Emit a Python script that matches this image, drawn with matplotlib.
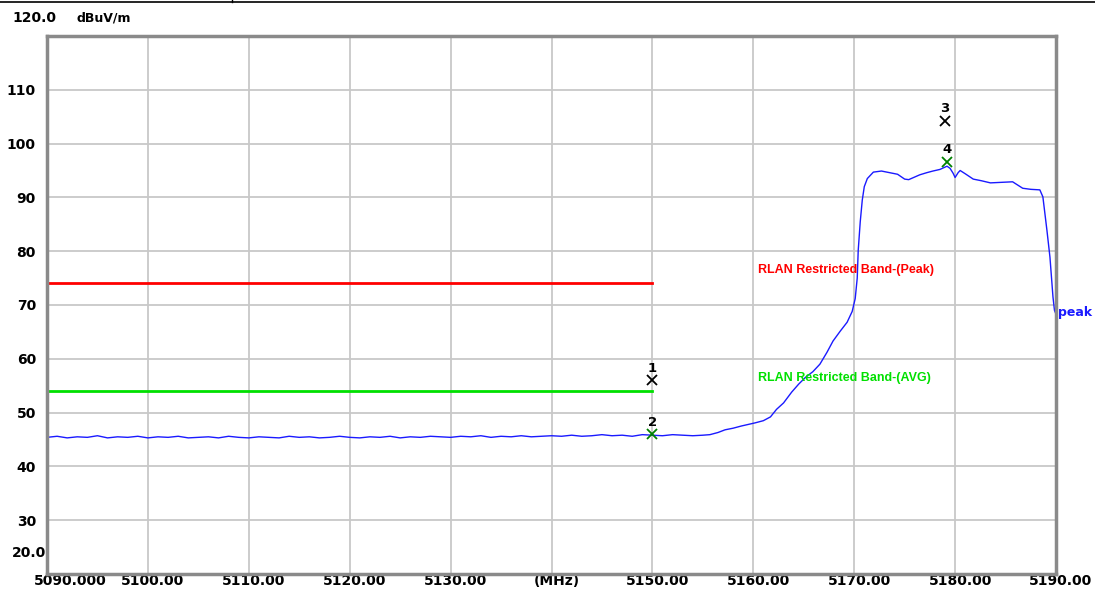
import numpy as np
import matplotlib.pyplot as plt
from matplotlib.lines import Line2D
from matplotlib.transforms import ScaledTranslation

# trace (MHz, dBuV/m)
flat_freq = list(range(5090, 5155))
flat_level = [45.4, 45.6, 45.3, 45.5, 45.4, 45.7, 45.3, 45.5, 45.4, 45.6,
              45.3, 45.5, 45.4, 45.6, 45.3, 45.4, 45.5, 45.3, 45.6, 45.4,
              45.3, 45.5, 45.4, 45.3, 45.6, 45.4, 45.5, 45.3, 45.4, 45.6,
              45.4, 45.3, 45.5, 45.4, 45.6, 45.3, 45.5, 45.4, 45.6, 45.5,
              45.4, 45.6, 45.5, 45.7, 45.4, 45.6, 45.5, 45.7, 45.5, 45.6,
              45.7, 45.6, 45.8, 45.6, 45.7, 45.9, 45.7, 45.8, 45.6, 45.9,
              45.8, 45.7, 45.9, 45.8, 45.7]
edge_freq = [5155.0, 5155.7, 5156.5, 5157.2, 5158.0, 5158.8, 5159.5, 5160.2,
             5161.0, 5161.7, 5162.3, 5163.0, 5163.8, 5164.5, 5165.2, 5165.9,
             5166.6, 5167.3, 5167.9, 5168.6, 5169.3, 5169.8, 5170.1, 5170.3,
             5170.4, 5170.6, 5170.8, 5171.0, 5171.3, 5171.9, 5172.7, 5173.5,
             5174.3, 5175.0, 5175.4, 5176.0, 5176.5, 5177.2, 5177.8, 5178.5,
             5179.2, 5179.5, 5179.8, 5180.0, 5180.3, 5180.5, 5181.0, 5181.8,
             5182.6, 5183.5, 5184.5, 5185.7, 5186.2, 5186.7, 5187.5, 5188.4,
             5188.7, 5188.9, 5189.1, 5189.4, 5189.7, 5189.85, 5190.0]
edge_level = [45.8, 45.9, 46.3, 46.8, 47.1, 47.5, 47.8, 48.1,
              48.5, 49.2, 50.6, 51.8, 53.8, 55.3, 56.6, 57.6,
              59.0, 61.2, 63.3, 65.1, 66.8, 68.8, 71.2, 75.0,
              80.2, 85.5, 89.5, 92.0, 93.5, 94.7, 94.9, 94.6,
              94.3, 93.4, 93.3, 93.8, 94.2, 94.6, 94.9, 95.2,
              95.8, 95.4, 94.5, 93.7, 94.6, 95.0, 94.4, 93.4,
              93.1, 92.7, 92.8, 92.9, 92.3, 91.7, 91.5, 91.4,
              90.1, 87.0, 83.9, 78.9, 71.5, 69.0, 68.3]

limit_freq = [5090, 5150]
peak_limit = 74
avg_limit = 54

marker_names = ['1', '2', '3', '4']
marker_freq = [5150.0, 5150.0, 5179.0, 5179.2]
marker_level = [56.0, 46.0, 104.2, 96.6]
marker_col = ['black', 'green', 'black', 'green']

x_ticks = [5090, 5100, 5110, 5120, 5130, 5140, 5150, 5160, 5170, 5180, 5190]
x_labels = ['5090.000', '5100.00', '5110.00', '5120.00', '5130.00', '(MHz)',
            '5150.00', '5160.00', '5170.00', '5180.00', '5190.00']
y_ticks = [30, 40, 50, 60, 70, 80, 90, 100, 110]

fig = plt.figure(figsize=(10.95, 5.91), dpi=100)
ax = fig.add_axes([47/1095, 1-574/591, (1056-47)/1095, (574-36)/591])

freq = flat_freq + edge_freq
level = flat_level + edge_level
ax.plot(freq, level, color='#1a1aff', lw=1)
ax.plot(limit_freq, [peak_limit]*2, color='#ff0000', lw=2)
ax.plot(limit_freq, [avg_limit]*2, color='#00e000', lw=2)

for n, f, l, c in zip(marker_names, marker_freq, marker_level, marker_col):
    ax.plot(f, l, marker='x', color=c, ms=7, mew=1.3)
    ax.annotate(n, (f, l), xytext=(0, 4), textcoords='offset points',
                ha='center', va='bottom', fontsize=9.5, fontweight='bold',
                color='black')

ax.set_xlim(5090, 5190)
ax.set_ylim(20, 120)
ax.set_xticks(x_ticks)
ax.set_xticklabels(x_labels)
ax.set_yticks(y_ticks)
ax.set_yticklabels([str(v) for v in y_ticks])
ax.tick_params(length=0, labelsize=10, pad=8)
ax.tick_params(axis='x', pad=0)
for i, t in enumerate(ax.get_xticklabels()):
    t.set_fontweight('bold')
    dx = 23 if i == 0 else 5
    t.set_transform(t.get_transform() + ScaledTranslation(dx/100, 0, fig.dpi_scale_trans))
for t in ax.get_yticklabels():
    t.set_fontweight('bold')
ax.grid(True, color='#c8c8c8', lw=1.3)
for s in ax.spines.values():
    s.set_color('#8a8a8a')
    s.set_linewidth(2.5)

fig.text(12/1095, 1-18/591, '120.0', ha='left', va='center', fontsize=10, fontweight='bold')
fig.text(77/1095, 1-18/591, 'dBuV/m', ha='left', va='center', fontsize=9, fontweight='bold')
fig.text(12/1095, 1-553/591, '20.0', ha='left', va='center', fontsize=10, fontweight='bold')

lab_font = dict(family='Liberation Sans', fontsize=9, fontweight='bold')
ax.text(5160.5, 76.5, 'RLAN Restricted Band-(Peak)', color='#ff0000',
        ha='left', va='center', **lab_font)
ax.text(5160.5, 56.4, 'RLAN Restricted Band-(AVG)', color='#00e000',
        ha='left', va='center', **lab_font)
ax.text(5190.2, 68.6, 'peak', color='#1a1aff', ha='left', va='center',
        fontsize=9, fontweight='bold', clip_on=False)

# border line at the top of the screenshot
fig.add_artist(Line2D([0, 1], [1-2/591]*2, color='black', lw=1.2))
fig.add_artist(Line2D([232/1095]*2, [1-2/591, 1], color='black', lw=1))

fig.savefig('out.png', dpi=100)
